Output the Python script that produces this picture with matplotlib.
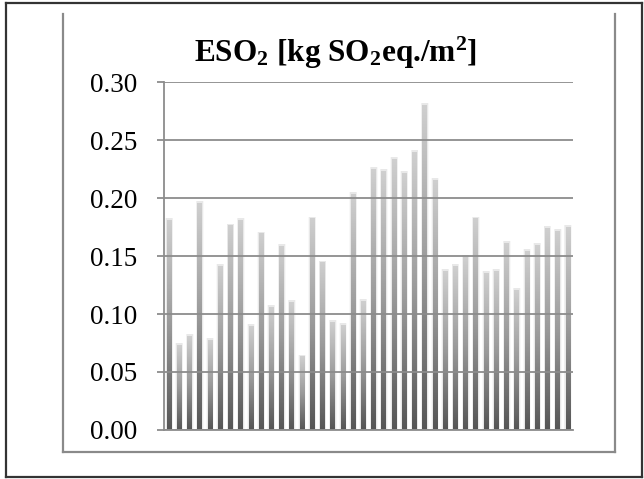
import numpy as np
import matplotlib
matplotlib.use("Agg")
import matplotlib.pyplot as plt
from matplotlib.colors import LinearSegmentedColormap
from matplotlib.lines import Line2D

plt.rcParams["font.family"] = ["Liberation Serif", "DejaVu Serif"]
plt.rcParams["mathtext.fontset"] = "custom"
plt.rcParams["mathtext.rm"] = "Liberation Serif"
plt.rcParams["mathtext.bf"] = "Liberation Serif:bold"
plt.rcParams["mathtext.it"] = "Liberation Serif:italic"

# ESO2 value per case (40 bars, no category labels shown)
values = [0.181, 0.073, 0.081, 0.195, 0.077, 0.141, 0.176, 0.181, 0.089, 0.169,
          0.106, 0.158, 0.110, 0.063, 0.182, 0.144, 0.093, 0.090, 0.203, 0.111,
          0.225, 0.223, 0.233, 0.221, 0.239, 0.280, 0.215, 0.137, 0.141, 0.149,
          0.182, 0.135, 0.137, 0.161, 0.120, 0.154, 0.159, 0.174, 0.171, 0.175]
yticks = [0.00, 0.05, 0.10, 0.15, 0.20, 0.25, 0.30]
title = r"ESO$_\mathbf{2}$ [kg SO$_\mathbf{2}$eq./m$^\mathbf{2}$]"

GRID = "#8c8c8c"
bar_w = 0.47
cmap = LinearSegmentedColormap.from_list("bars", ["#555555", "#9a9a9a", "#cfcfcf"])
grad = np.linspace(0, 1, 256).reshape(-1, 1)

fig = plt.figure(figsize=(6.44, 4.79), dpi=100)
ax = fig.add_axes([0.2547, 0.1023, 0.6351, 0.7265])

x = np.arange(len(values))
for xi, v in zip(x, values):
    # soft shadow around each bar
    for k, a in [(0.30, 0.05), (0.20, 0.06), (0.12, 0.07)]:
        ax.bar(xi, v + 0.002, width=bar_w + k, color="#808080", alpha=a,
               linewidth=0, zorder=1)
    ax.imshow(grad, cmap=cmap, origin="lower", aspect="auto",
              extent=[xi - bar_w / 2, xi + bar_w / 2, 0, v], zorder=2,
              interpolation="bilinear")

ax.set_xlim(-0.5, len(values) - 0.5)
ax.set_ylim(0, 0.30)
ax.set_yticks(yticks)
ax.set_yticklabels([f"{t:.2f}" for t in yticks])
ax.set_xticks([])
ax.yaxis.grid(True, color=GRID, linewidth=1.3, zorder=3)
ax.set_axisbelow(False)
ax.tick_params(axis="y", length=5, width=1.3, color=GRID, pad=14, labelsize=19.5)
for s in ["top", "right"]:
    ax.spines[s].set_visible(False)
for s in ["left", "bottom"]:
    ax.spines[s].set_color(GRID)
    ax.spines[s].set_linewidth(1.3)
    ax.spines[s].set_zorder(4)

fig.text(0.521, 0.8706, title, ha="center", va="baseline", fontsize=22.5,
         fontweight="bold")

# inner chart frame (open at the top) and outer border
W, H = 644, 479
def fx(p):
    return p / W
def fy(p):
    return 1 - p / H
for xs, ys in [([63, 63], [14, 452]), ([615, 615], [14, 452]), ([63, 615], [452, 452])]:
    fig.add_artist(Line2D([fx(v) for v in xs], [fy(v) for v in ys],
                          color="#8a8a8a", linewidth=1.6))
for xs, ys in [([6, 6], [3, 477]), ([642, 642], [3, 477]),
               ([6, 642], [3, 3]), ([6, 642], [477, 477])]:
    fig.add_artist(Line2D([fx(v) for v in xs], [fy(v) for v in ys],
                          color="#333333", linewidth=1.6))

fig.savefig("out.png", dpi=100)
